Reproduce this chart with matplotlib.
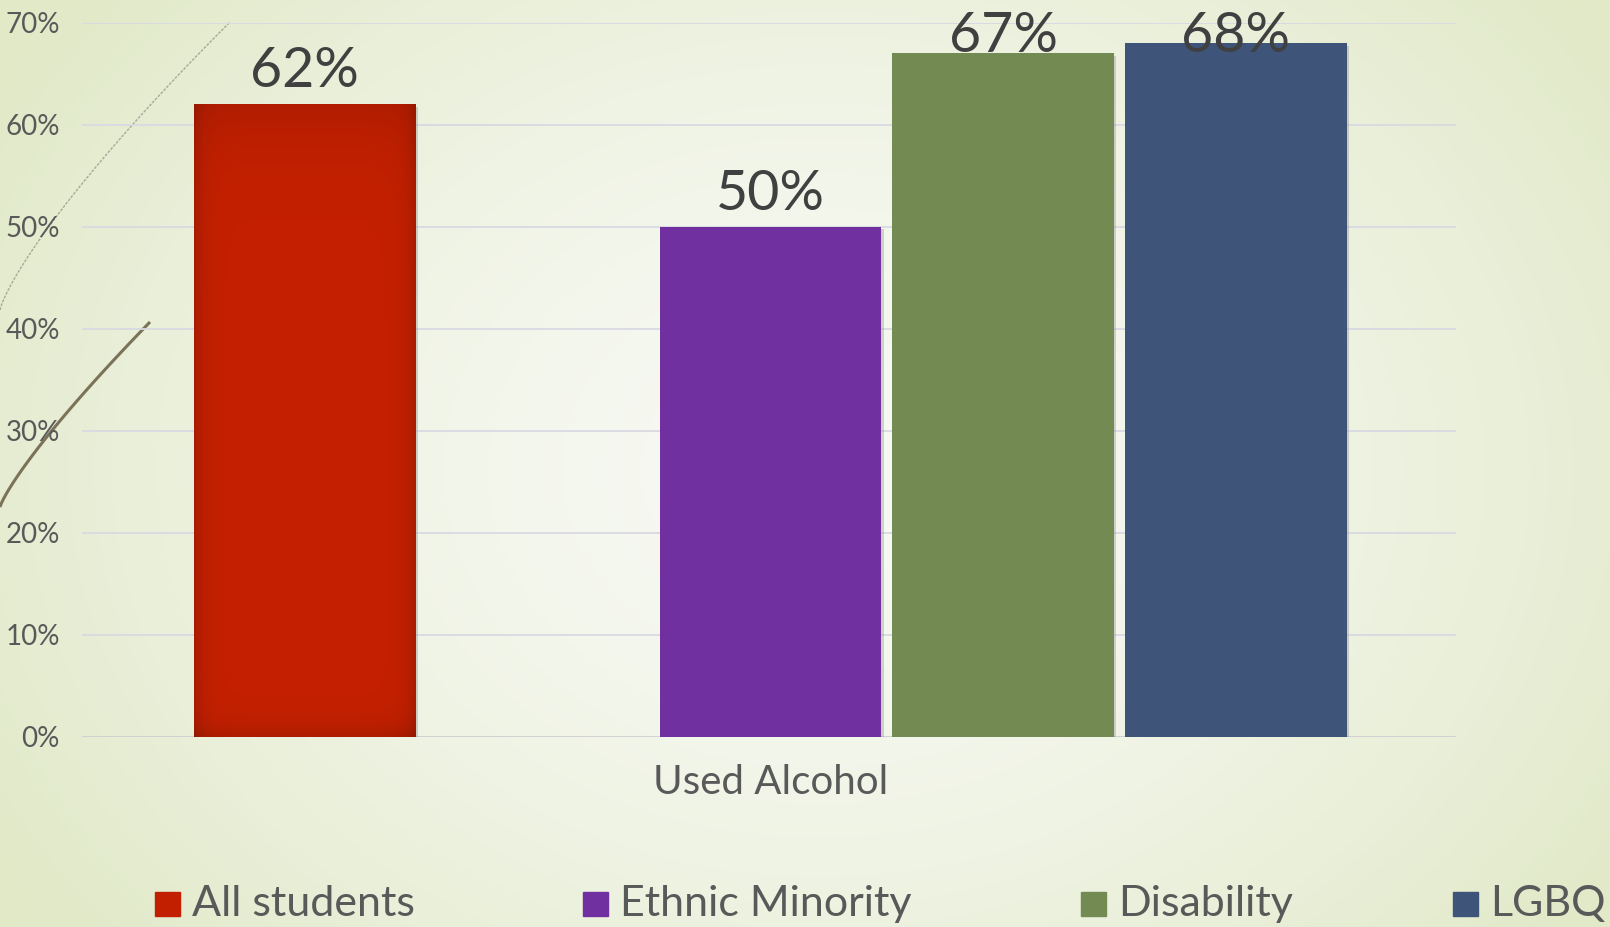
import numpy as np
import matplotlib.pyplot as plt
import matplotlib.patheffects as pe
from matplotlib.patches import Rectangle
from matplotlib.ticker import PercentFormatter

category = 'Used Alcohol'
series = ['All students', 'Ethnic Minority', 'Disability', 'LGBQ']
values = [0.62, 0.50, 0.67, 0.68]
colors = ['#c21f00', '#7030a0', '#738a52', '#3f5479']
# slot -1 holds an empty series, so the first bar stands apart
slots = [-2, 0, 1, 2]
legend_x = [155, 583, 1081, 1453]

plt.rcParams['font.family'] = ['Lato', 'DejaVu Sans']

W, H = 1610, 927
fig = plt.figure(figsize=(W / 100, H / 100), dpi=100)

# slide background: soft radial wash, pale in the middle
bg = fig.add_axes([0, 0, 1, 1], zorder=-10)
yy, xx = np.mgrid[0:H, 0:W]
d = np.clip(np.hypot((xx - 820) / 950, (yy - 470) / 750), 0, 1) ** 1.6
c0 = np.array([247, 249, 243]) / 255
c1 = np.array([225, 233, 200]) / 255
img = c0 + (c1 - c0) * d[..., None]
bg.imshow(img, extent=[0, W, H, 0], aspect='auto')
bg.set_xlim(0, W)
bg.set_ylim(H, 0)
bg.axis('off')

# theme swooshes on the left edge
t = np.linspace(0, 1, 80)
bg.plot(230 * t ** 1.25, 310 - 288 * t, color='#a9a995', lw=1, ls=(0, (2, 1)))
bg.plot(150 * t ** 1.2, 507 - 185 * t, color='#7a7358', lw=2.2, solid_capstyle='butt')

# legend
for x, name, c in zip(legend_x, series, colors):
    bg.add_patch(Rectangle((x, 892), 25, 24, color=c))
    bg.text(x + 37, 916, name, va='baseline', fontsize=31, color='#595959')

ax = fig.add_axes([82 / W, 1 - 736.5 / H, (1456 - 82) / W, (736.5 - 22.7) / H])
ax.patch.set_alpha(0)
bars = ax.bar(slots, values, width=0.95, color=colors, zorder=3)
for b in bars:
    b.set_path_effects([pe.SimplePatchShadow(offset=(2, -2), shadow_rgbFace='#888888', alpha=0.35), pe.Normal()])

# bevel shading on the first bar
rb = bars[0]
gx = np.linspace(0, 1, 200)
gy = np.linspace(0, 1, 400)[:, None]
shade = 1 - 0.14 * np.exp(-gx / 0.04) - 0.14 * np.exp(-(1 - gx) / 0.04) \
        - 0.10 * np.exp(-(1 - gy) / 0.06) - 0.12 * np.exp(-gy / 0.02)
base = np.array([0xc4, 0x20, 0x00]) / 255
grad = np.clip(shade[..., None] * base, 0, 1)
im = ax.imshow(grad, extent=[rb.get_x(), rb.get_x() + rb.get_width(), 0, rb.get_height()],
               origin='lower', aspect='auto', zorder=3.5)
im.set_clip_path(rb)

for x, v in zip(slots, values):
    ax.text(x, min(v + 0.0167, 0.671), f'{v:.0%}', ha='center', va='baseline',
            fontsize=40, color='#404040', zorder=4)

ax.set_xlim(-2.955, 2.945)
ax.set_ylim(0, 0.70)
ax.set_yticks(np.arange(0, 0.71, 0.1))
ax.yaxis.set_major_formatter(PercentFormatter(1.0, decimals=0))
ax.set_xticks([0])
ax.set_xticklabels([category])
ax.grid(axis='y', color='#d9d9e3', lw=1.3, zorder=0)
ax.axhline(0, color='#d0d0d0', lw=2, zorder=2)
for s in ax.spines.values():
    s.set_visible(False)
ax.tick_params(axis='y', length=0, pad=16, labelsize=20, labelcolor='#595959')
ax.tick_params(axis='x', length=0, pad=20, labelsize=29, labelcolor='#595959')

fig.savefig('out.png', dpi=100)
